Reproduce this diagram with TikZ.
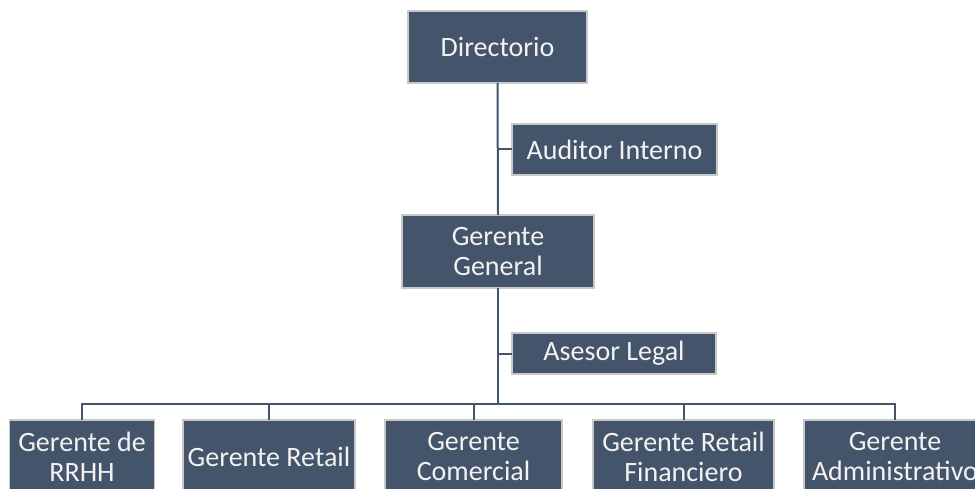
\documentclass[tikz,border=0pt]{standalone}
\usepackage{fontspec}
\setmainfont{Carlito}
\definecolor{boxfill}{HTML}{44546A}
\definecolor{boxedge}{HTML}{C8C8C8}
\definecolor{linecol}{HTML}{44546A}
\definecolor{txt}{HTML}{F2F2F2}
\begin{document}
\begin{tikzpicture}[x=1bp,y=-1bp,
  orgbox/.style={draw=boxedge, line width=1.5bp, fill=boxfill, text=txt,
    inner sep=0pt, outer sep=0pt, align=center,
    font=\fontsize{28bp}{30bp}\selectfont},
  conn/.style={draw=linecol, line width=2bp}]
\useasboundingbox (0,0) rectangle (975,489);
\clip (0,0) rectangle (975,489);
\node[orgbox, minimum width=179bp, minimum height=72bp] (dir) at (497.5,47) {Directorio};
\node[orgbox, minimum width=205bp, minimum height=51bp] (aud) at (614.5,149.5) {Auditor Interno};
\node[orgbox, minimum width=192bp, minimum height=73bp] (gg) at (498,251.5) {Gerente\\General};
\node[orgbox, minimum width=204bp, minimum height=41bp] (ase) at (614,353.5) {Asesor Legal};
\node[orgbox, minimum width=145bp, minimum height=73bp] (b1) at (82,456.5) {Gerente de\\RRHH};
\node[orgbox, minimum width=172bp, minimum height=73bp] (b2) at (269,456.5) {Gerente Retail};
\node[orgbox, minimum width=177bp, minimum height=73bp] (b3) at (473.5,456.5) {Gerente\\Comercial};
\node[orgbox, minimum width=181bp, minimum height=73bp] (b4) at (683.5,456.5) {Gerente Retail\\Financiero};
\node[orgbox, minimum width=182bp, minimum height=73bp] (b5) at (895,456.5) {Gerente\\Administrativo};
\coordinate (bar) at (0,404);
\draw[conn] (dir.south) -- (gg.north);
\draw[conn] (aud.west) -- (aud.west -| dir.south);
\draw[conn] (ase.west) -- (ase.west -| gg.south);
\draw[conn] (gg.south) -- (gg.south |- bar);
\foreach \b in {b1,b2,b3,b4,b5}{
  \draw[conn] (gg.south |- bar) -| (\b.north);
}
\end{tikzpicture}
\end{document}
